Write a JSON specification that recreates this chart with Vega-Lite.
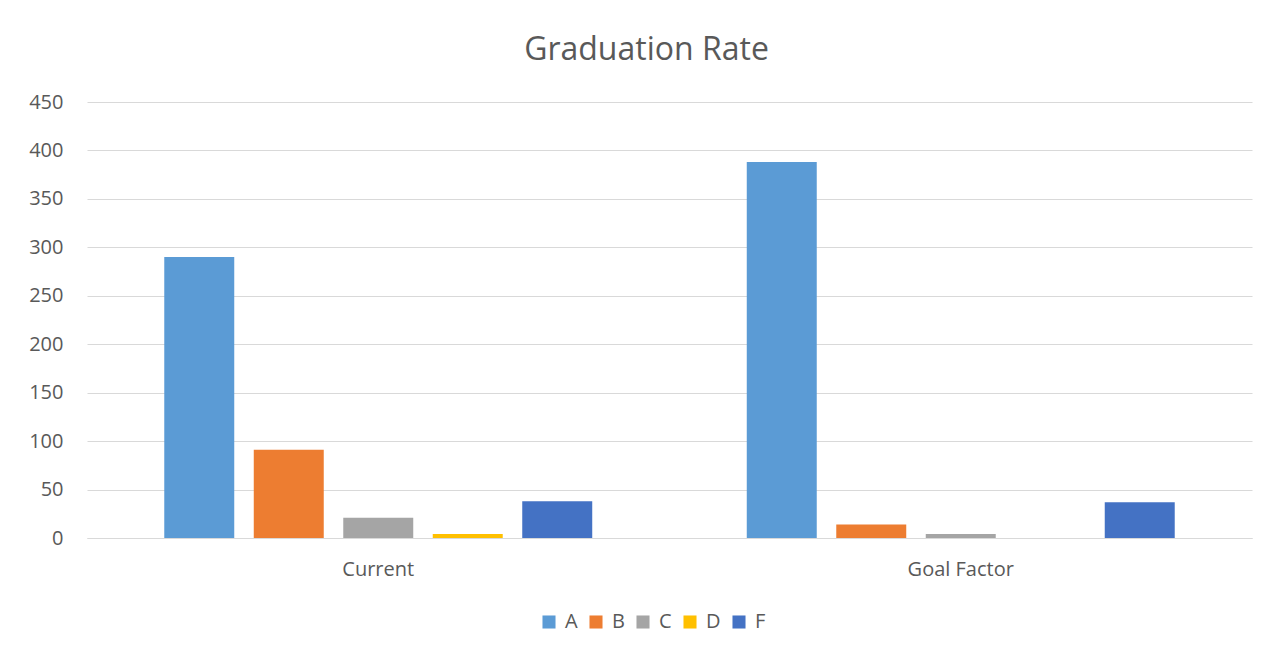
{
  "$schema": "https://vega.github.io/schema/vega-lite/v6.json",
  "autosize": {"type": "none"},
  "width": 1165,
  "height": 436,
  "padding": {"left": 87, "top": 102, "right": 14, "bottom": 117},
  "background": "white",
  "title": {
    "text": "Graduation Rate",
    "fontSize": 32,
    "font": "Open Sans",
    "fontWeight": "normal",
    "color": "#595959",
    "anchor": "middle",
    "frame": "group",
    "baseline": "alphabetic",
    "offset": 0,
    "dx": -23
  },
  "data": {
    "values": [
      {"group": "Current", "grade": "A", "value": 290},
      {"group": "Current", "grade": "B", "value": 91},
      {"group": "Current", "grade": "C", "value": 21},
      {"group": "Current", "grade": "D", "value": 4},
      {"group": "Current", "grade": "F", "value": 38},
      {"group": "Goal Factor", "grade": "A", "value": 388},
      {"group": "Goal Factor", "grade": "B", "value": 14},
      {"group": "Goal Factor", "grade": "C", "value": 4},
      {"group": "Goal Factor", "grade": "D", "value": 0},
      {"group": "Goal Factor", "grade": "F", "value": 37}
    ]
  },
  "mark": {"type": "bar"},
  "encoding": {
    "x": {
      "field": "group",
      "type": "nominal",
      "sort": ["Current", "Goal Factor"],
      "scale": {"paddingInner": 0.2318, "paddingOuter": 0.1159},
      "axis": {
        "title": null,
        "labelAngle": 0,
        "labelFontSize": 20,
        "labelFont": "Open Sans",
        "labelColor": "#595959",
        "labelPadding": 21,
        "ticks": false,
        "domain": true,
        "domainColor": "#d9d9d9",
        "grid": false
      }
    },
    "xOffset": {
      "field": "grade",
      "type": "nominal",
      "sort": ["A", "B", "C", "D", "F"],
      "scale": {"paddingInner": 0.218, "paddingOuter": 0.109}
    },
    "y": {
      "field": "value",
      "type": "quantitative",
      "scale": {"domain": [0, 450], "nice": false},
      "axis": {
        "title": null,
        "values": [0, 50, 100, 150, 200, 250, 300, 350, 400, 450],
        "labelFontSize": 20,
        "labelFont": "Open Sans",
        "labelColor": "#595959",
        "labelPadding": 24,
        "ticks": false,
        "domain": false,
        "grid": true,
        "gridColor": "#d9d9d9",
        "gridWidth": 1
      }
    },
    "color": {
      "field": "grade",
      "type": "nominal",
      "sort": ["A", "B", "C", "D", "F"],
      "scale": {
        "domain": ["A", "B", "C", "D", "F"],
        "range": ["#5B9BD5", "#ED7D31", "#A5A5A5", "#FFC000", "#4472C4"]
      },
      "legend": {
        "title": null,
        "orient": "none",
        "legendX": 452,
        "legendY": 510,
        "direction": "horizontal",
        "symbolType": "square",
        "symbolSize": 170,
        "symbolStrokeWidth": 0,
        "labelFontSize": 20,
        "labelFont": "Open Sans",
        "labelColor": "#595959",
        "columnPadding": 8,
        "labelOffset": 6
      }
    }
  },
  "config": {
    "view": {"stroke": null}
  }
}
